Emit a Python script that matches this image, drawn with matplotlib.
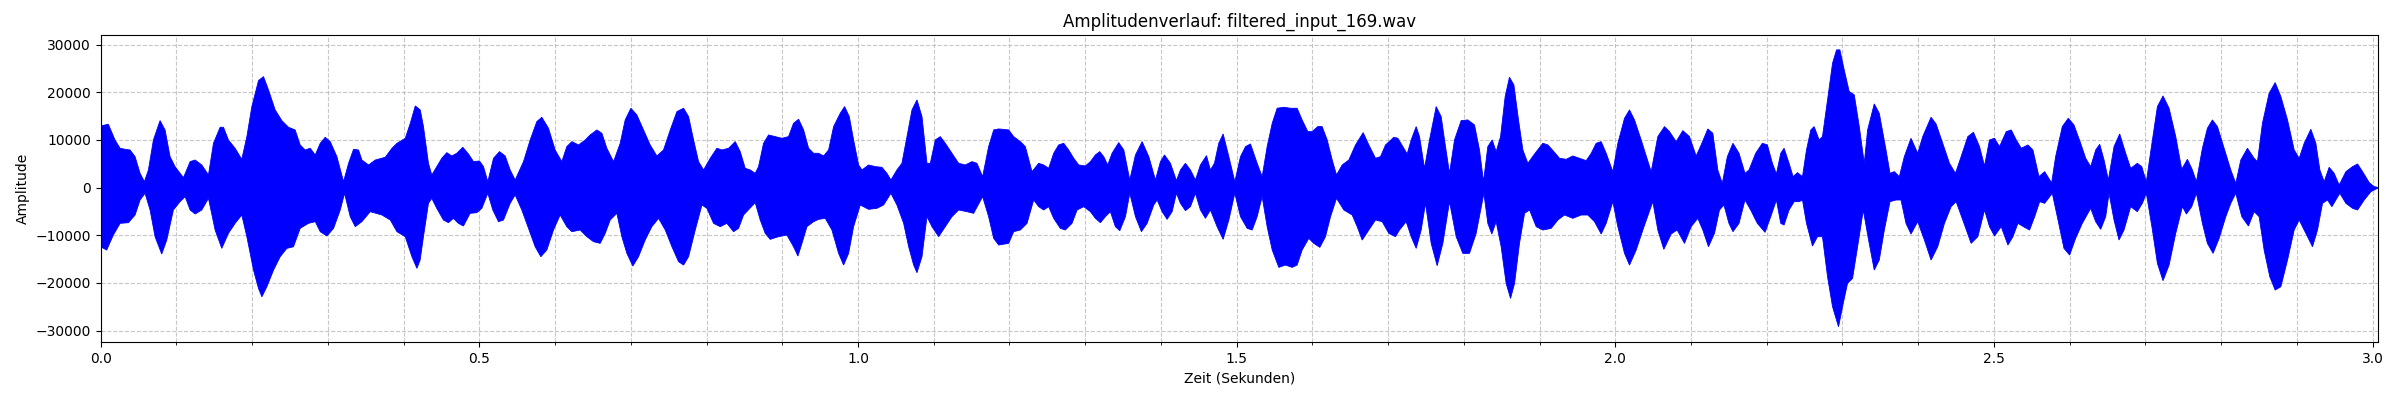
import numpy as np
import matplotlib
matplotlib.use("Agg")
import matplotlib.pyplot as plt
from matplotlib.ticker import MultipleLocator

# ---- data: amplitude envelope (time in s, amplitude) ----
upper_t = [
    0.0, 0.0013, 0.0101, 0.0189, 0.0256, 0.0322, 0.0388, 0.0454, 0.052, 0.0577,
    0.063, 0.0696, 0.0784, 0.085, 0.0916, 0.0982, 0.1093, 0.1181, 0.1247, 0.1335,
    0.1423, 0.1489, 0.1577, 0.1621, 0.1687, 0.1775, 0.1863, 0.193, 0.1996, 0.2084,
    0.215, 0.2216, 0.2304, 0.2392, 0.248, 0.2568, 0.2634, 0.27, 0.2767, 0.2833,
    0.2899, 0.2965, 0.3031, 0.3119, 0.3207, 0.3273, 0.3339, 0.3405, 0.3449, 0.3537,
    0.3626, 0.3758, 0.3846, 0.3912, 0.4022, 0.4088, 0.4154, 0.422,
    0.4262, 0.4328, 0.4372, 0.4438, 0.4504, 0.457, 0.4636, 0.4702, 0.4782, 0.4856,
    0.4923, 0.5002, 0.5055, 0.5112, 0.5187, 0.5266, 0.5341, 0.5407, 0.5473, 0.5583,
    0.5671, 0.5759, 0.5825, 0.5913, 0.6001, 0.6089, 0.6155, 0.6222, 0.631, 0.6398,
    0.6464, 0.6552, 0.6618, 0.6684, 0.6772, 0.686, 0.6926, 0.7001, 0.708, 0.7168,
    0.7256, 0.7344, 0.7432, 0.7521, 0.7609, 0.7697, 0.7763, 0.7829, 0.7895, 0.7961,
    0.8049, 0.8137, 0.8203, 0.8291, 0.8379, 0.8445, 0.8511,
    0.8577, 0.8643, 0.8687, 0.8753, 0.8819, 0.8907, 0.8995, 0.9083, 0.9149, 0.9216,
    0.9282, 0.9348, 0.9414, 0.948, 0.9546, 0.9612, 0.9678, 0.9766, 0.9823, 0.9885,
    0.9942, 1.0008, 1.0052, 1.014, 1.0228, 1.0316, 1.0382, 1.0435, 1.0514, 1.058,
    1.0647, 1.0713, 1.0779, 1.0845, 1.0911, 1.0955, 1.1021, 1.1087, 1.1153, 1.1241,
    1.1329, 1.1417, 1.1505, 1.1571, 1.1646, 1.1725, 1.1792, 1.1858, 1.199, 1.2056,
    1.2144, 1.221, 1.2298, 1.2386, 1.2452, 1.2518, 1.2584, 1.265, 1.2716, 1.2782,
    1.2849, 1.2915, 1.3003, 1.3069, 1.3135, 1.3192, 1.3245, 1.3298, 1.3355, 1.3443,
    1.351, 1.3589, 1.3664, 1.3752, 1.384, 1.3928, 1.3994, 1.4047, 1.4126, 1.4205,
    1.4258, 1.4324, 1.439, 1.4456, 1.4522, 1.4602, 1.4654, 1.4707, 1.4764, 1.4822,
    1.4897, 1.4976, 1.5051, 1.5117, 1.5183, 1.5271, 1.5337, 1.5403, 1.547, 1.5535,
    1.5623, 1.5711, 1.5799, 1.5865, 1.594, 1.5997, 1.6072, 1.6129, 1.6196, 1.6262,
    1.6319, 1.6394, 1.6482, 1.657, 1.6671, 1.6746, 1.6834, 1.69, 1.6966, 1.7076,
    1.7129, 1.7195, 1.7252, 1.7305, 1.7371, 1.7415, 1.7481, 1.7547, 1.7635, 1.7701,
    1.7745, 1.7811, 1.7877, 1.7965, 1.8053, 1.8141, 1.8207, 1.826, 1.8317, 1.8375,
    1.8427, 1.8485, 1.8546, 1.8603, 1.8661, 1.8722, 1.878, 1.8846, 1.8934, 1.9044,
    1.911, 1.9189, 1.9264, 1.9352, 1.944, 1.9528, 1.9616, 1.9682, 1.9748, 1.9814,
    1.988, 1.9968, 2.0034, 2.0122, 2.0188, 2.0254, 2.0342, 2.0474, 2.0562, 2.065,
    2.0716, 2.0804, 2.0892, 2.098, 2.1068, 2.1134, 2.1222, 2.1288, 2.1354,
    2.1413, 2.148, 2.1554, 2.1634, 2.1713, 2.1766, 2.1854, 2.1942, 2.2009, 2.2075,
    2.2128, 2.2185, 2.2229, 2.2295, 2.2348, 2.2406, 2.2472, 2.2525, 2.2582, 2.2626,
    2.2692, 2.2736, 2.2803, 2.2869, 2.2922, 2.2966, 2.3023, 2.3089, 2.3156, 2.3222,
    2.3288, 2.3332, 2.342, 2.3486, 2.3575, 2.3628, 2.3685, 2.3751, 2.3817, 2.3905,
    2.3994, 2.406, 2.417, 2.4236, 2.4324, 2.4413, 2.4492, 2.4567, 2.4655, 2.473,
    2.481, 2.4876, 2.4942, 2.5008, 2.5074, 2.5163, 2.5229, 2.5295, 2.5361, 2.5449,
    2.5515, 2.5595, 2.567,
    2.5762, 2.5815, 2.5903, 2.5982, 2.6057, 2.6145, 2.6212, 2.6278, 2.6344, 2.6397,
    2.6454, 2.6511, 2.6586, 2.6661, 2.674, 2.6806, 2.6894, 2.6952, 2.7013, 2.7093,
    2.7159, 2.7233, 2.7313, 2.7401, 2.748, 2.7555, 2.7621, 2.7674, 2.7753, 2.7819,
    2.7885, 2.7952, 2.804, 2.8128, 2.8194, 2.826, 2.8348, 2.8436, 2.848, 2.8546,
    2.8634, 2.8714, 2.8789, 2.8877, 2.8965, 2.9031, 2.9097, 2.9185, 2.9251, 2.9304,
    2.9361, 2.9427, 2.9493, 2.9559, 2.9648, 2.9736, 2.9802, 2.9868, 2.9956, 3.0022,
    3.0066,
]
upper_v = [
    12100, 13000, 13300, 10000, 8260, 8050, 7900, 6500, 3000, 1260,
    3700, 10000, 14070, 12100, 6500, 4400, 2100, 5460, 5800, 4760,
    2660, 9300, 12670, 12670, 10000, 8260, 5950, 10700, 17000, 22470,
    23300, 20500, 16300, 14070, 12670, 12100, 8960, 7900, 8260, 6860,
    9300, 10570, 9660, 6500, 1260, 5100, 8050, 7900, 5800, 4760,
    5800, 6370, 8260, 9300, 10360, 13500, 17150, 16300,
    12800, 5100, 2660, 4400, 6160, 7350, 6650, 7210, 8470, 7070,
    5460, 5600, 4400, 1260, 6160, 7560, 6650, 3710, 1610, 5460,
    10000, 13860, 14770, 12460, 7910, 5460, 8610, 9660, 8960, 10000,
    11060, 12110, 11410, 8260, 5460, 9310, 14210, 16660, 15260, 12110,
    8960, 6650, 7910, 12110, 15960, 16660, 14910, 10000, 5460, 3710,
    6160, 8260, 7910, 8260, 9660, 7560, 4060,
    3710, 3010, 4410, 9310, 11060, 10710, 10360, 10710, 13510, 14350,
    12110, 8260, 7210, 7210, 6650, 7910, 12810, 15610, 17010, 14910,
    10010, 4760, 3710, 4760, 4410, 4270, 3010, 1610, 3710, 5110,
    10710, 16310, 18410, 14910, 5110, 5110, 10010, 10710, 9310, 7210,
    5110, 4760, 5460, 5110, 2310, 8610, 12110, 12320, 12110, 10710,
    9660, 8610, 3360, 5110, 4760, 4060, 7210, 8960, 9310, 7910,
    6160, 4760, 4550, 5460, 6860, 7560, 6510, 4760, 7210, 9450,
    7910, 1610, 6860, 9660, 6510, 1610, 5460, 6860, 5110, 1470,
    3710, 5110, 3710, 1610, 4760, 6720, 3710, 5110, 9310, 11270,
    6510, 1260, 6510, 8610, 9170, 5110, 2310, 8610, 13510, 16660,
    16870, 16660, 16660, 14210, 11760, 11760, 12810, 12810, 10010, 5810,
    2660, 4760, 5810, 8960, 11550, 8960, 6160, 6510, 8960, 10570,
    10360, 8610, 7070, 10010, 12810, 10710, 4060, 10010, 17010, 14910,
    10010, 3010, 10010, 14070, 14210, 13160, 7910, 1260, 8610, 10010,
    7560, 10710, 19110, 23170, 21560, 14210, 7910, 5110, 7070, 9310,
    8960, 7560, 6160, 5950, 6650, 6160, 5670, 7210, 9310, 9660,
    7210, 3360, 9310, 14560, 16310, 14210, 10010, 3360, 10710, 12810,
    11760, 9660, 11970, 10710, 6650, 8960, 12320, 11410, 3710,
    910, 6510, 9310, 7210, 3010, 3710, 7210, 9310, 8960, 5110,
    2870, 7210, 8260, 5110, 2310, 3150, 2310, 7910, 12110, 12810,
    10010, 10710, 18410, 26110, 28910, 28910, 24710, 20160, 19460, 12810,
    5110, 12110, 17570, 15610, 7910, 3010, 3360, 2310, 6510, 10360,
    7210, 10710, 14770, 13370, 9310, 5110, 3010, 6510, 10710, 11620,
    8610, 4550, 10010, 10360, 8610, 11760, 12110, 10010, 8260, 8960,
    7910, 2310, 3360,
    1000, 6510, 12810, 14560, 13160, 9310, 6160, 4410, 7910, 9100,
    5810, 1610, 8610, 11270, 7210, 4060, 5110, 4410, 1260, 10010,
    17010, 19250, 16660, 10710, 3850, 5950, 3710, 1260, 8260, 12460,
    14210, 12810, 8260, 3710, 910, 5810, 8260, 6160, 5460, 13510,
    19810, 22050, 19110, 14210, 7910, 6160, 9310, 12250, 9310, 3710,
    1260, 4270, 3010, 560, 3360, 4410, 4970, 3360, 1050, 210,
    70,
]

lower_t = [
    0.0, 0.0079, 0.0167, 0.0256, 0.0366, 0.0454, 0.052, 0.0586, 0.0652, 0.0718,
    0.0806, 0.0872, 0.096, 0.1048, 0.1115, 0.1181, 0.1247, 0.1335, 0.1423, 0.1511,
    0.1599, 0.1687, 0.1775, 0.1863, 0.193, 0.2018, 0.2084, 0.2128, 0.2194, 0.2282,
    0.237, 0.2458, 0.2546, 0.2634, 0.2744, 0.2833, 0.2899, 0.2987, 0.3075, 0.3163,
    0.322, 0.3295, 0.3361, 0.3449, 0.3559, 0.3714, 0.3824, 0.3912, 0.4022, 0.411,
    0.4176,
    0.4218, 0.4262, 0.4328, 0.4372, 0.4438, 0.4526, 0.4592, 0.4658, 0.4724, 0.479,
    0.4878, 0.4967, 0.5033, 0.5112, 0.5178, 0.5253, 0.5319, 0.5407, 0.5473, 0.5561,
    0.5649, 0.5737, 0.5812, 0.5891, 0.5979, 0.6067, 0.6155, 0.6222, 0.6332, 0.642,
    0.6508, 0.6596, 0.6662, 0.6728, 0.6816, 0.6882, 0.6948, 0.7027, 0.7102, 0.719,
    0.7278, 0.7367, 0.7455, 0.7543, 0.7631, 0.7697, 0.7763, 0.7851, 0.7939, 0.8005,
    0.8093, 0.8181, 0.8269, 0.8357, 0.8423, 0.8489,
    0.8643, 0.8709, 0.8775, 0.8841, 0.8951, 0.9061, 0.9149, 0.9207, 0.926, 0.9326,
    0.9414, 0.948, 0.9568, 0.9656, 0.9744, 0.981, 0.9876, 0.9942, 1.003, 1.014,
    1.025, 1.0338, 1.0435, 1.0514, 1.0603, 1.0669, 1.0735, 1.0779, 1.0845, 1.0911,
    1.0977, 1.1065, 1.1153, 1.1241, 1.1329, 1.1439, 1.1527, 1.1646, 1.1725, 1.1792,
    1.1858, 1.199, 1.2056, 1.2144, 1.2232, 1.232, 1.2386, 1.2452, 1.2518, 1.2584,
    1.2672, 1.2738, 1.2826,
    1.2893, 1.2981, 1.3069, 1.3135, 1.3201, 1.3267, 1.3333, 1.3399, 1.3457, 1.3532,
    1.3589, 1.3664, 1.3743, 1.3818, 1.3906, 1.395, 1.4016, 1.4082, 1.4148, 1.4205,
    1.4258, 1.4324, 1.439, 1.4456, 1.4522, 1.4588, 1.4654, 1.4742, 1.4822, 1.4897,
    1.4976, 1.5051, 1.5139, 1.5205, 1.5271, 1.5337, 1.5403, 1.547, 1.5557, 1.5645,
    1.5733, 1.5799, 1.5865, 1.5953, 1.6019, 1.6099, 1.6173, 1.624, 1.6319, 1.6416,
    1.6526, 1.6592, 1.6658, 1.6746, 1.6834, 1.6922, 1.701, 1.7098,
    1.7151, 1.7239, 1.7305, 1.7371, 1.7437, 1.7494, 1.7569, 1.7648, 1.7723, 1.7811,
    1.7899, 1.7987, 1.8075, 1.8163, 1.8265, 1.8317, 1.837, 1.8427, 1.8493, 1.8559,
    1.8617, 1.867, 1.8735, 1.8802, 1.8868, 1.8956, 1.9044, 1.9154, 1.9242, 1.933,
    1.944, 1.955, 1.9638, 1.9726, 1.9814, 1.988, 1.9968, 2.0034, 2.0122, 2.0188,
    2.0276, 2.0364, 2.0496, 2.0562, 2.0641, 2.0738, 2.0817, 2.0914, 2.1002, 2.109,
    2.1156, 2.1231, 2.131, 2.1376,
    2.1435, 2.1501, 2.1554, 2.1634, 2.1713, 2.1788, 2.1876, 2.1978, 2.2053, 2.2128,
    2.2185, 2.2229, 2.2295, 2.2362, 2.2428, 2.2472, 2.2525, 2.2604, 2.267, 2.2736,
    2.2803, 2.2869, 2.2948, 2.301, 2.3067, 2.3133, 2.32, 2.3275, 2.3345, 2.342,
    2.3486, 2.3553, 2.3628, 2.3707, 2.3773, 2.3839, 2.3905, 2.3994, 2.4082, 2.417,
    2.4258, 2.4347, 2.4435, 2.4501, 2.4589, 2.4699, 2.4788, 2.4876, 2.4942, 2.5008,
    2.5096, 2.5185, 2.5251, 2.5317, 2.5405, 2.5471, 2.5538, 2.5604, 2.567,
    2.5771, 2.5837, 2.5925, 2.6, 2.6079, 2.6167, 2.6278, 2.6344, 2.641, 2.6476,
    2.652, 2.6586, 2.6652, 2.6718, 2.6806, 2.6894, 2.696, 2.7013, 2.7093, 2.7159,
    2.7233, 2.7313, 2.7401, 2.7489, 2.7542, 2.7612, 2.7674, 2.7753, 2.7819, 2.7894,
    2.7974, 2.8062, 2.8128, 2.8194, 2.8273, 2.8361, 2.8436, 2.8502, 2.8568, 2.8643,
    2.8714, 2.8789, 2.8877, 2.8965, 2.9031, 2.9119, 2.9207, 2.9273, 2.9339, 2.9405,
    2.9463, 2.9515, 2.9568, 2.9648, 2.9736, 2.9802, 2.989, 2.9978, 3.0066,
]
lower_v = [
    -12400, -13100, -9940, -7490, -7350, -5740, -2590, -1190, -4690, -10300,
    -13930, -11000, -4690, -2940, -1890, -4690, -5530, -4690, -2240, -8890,
    -12740, -9590, -7490, -5740, -10300, -17300, -21140, -22900, -20800, -17300,
    -14500, -12740, -12400, -8540, -7490, -7140, -9240, -10150, -8540, -4690,
    -1190, -6090, -8190, -7140, -5040, -5740, -6790, -9240, -10300, -14500,
    -16940,
    -15190, -10290, -3290, -2240, -4340, -6790, -7350, -6440, -7490, -8050,
    -5390, -5250, -4340, -1190, -4690, -7140, -6790, -3290, -1540, -4690,
    -8540, -12390, -14490, -13090, -8890, -5740, -8190, -9240, -8890, -10290,
    -11340, -11690, -9590, -6790, -5390, -10290, -13790, -16450, -14490, -10990,
    -8190, -6440, -8890, -12390, -15540, -16240, -14490, -8890, -3640, -4340,
    -7490, -8190, -7490, -9240, -8540, -5740,
    -3150, -6790, -9590, -10850, -10290, -9940, -12390, -14350, -11690, -8190,
    -7140, -6650, -6440, -8890, -13790, -16240, -13790, -8190, -3640, -4550,
    -4340, -3640, -1190, -3640, -7490, -12390, -16240, -17850, -14490, -6090,
    -8190, -10290, -8190, -6090, -4690, -5040, -5390, -1890, -6090, -10640,
    -12040, -11690, -9240, -8890, -7490, -2590, -3990, -4690, -3990, -6440,
    -8540, -8890, -7490,
    -4690, -3990, -5040, -6440, -7350, -6090, -5040, -8190, -9030, -6090,
    -1190, -6090, -9240, -7490, -3640, -2590, -5040, -6650, -5040, -1190,
    -3290, -4830, -3990, -1190, -4690, -6440, -4690, -8190, -10850, -6790,
    -1190, -6090, -8540, -8890, -6090, -1890, -8190, -13090, -16730, -16240,
    -16730, -16240, -13090, -10640, -11690, -12530, -10290, -6090, -2240, -4690,
    -5740, -8190, -10990, -8890, -6790, -7140, -9590, -10290,
    -8890, -7140, -10290, -12740, -8890, -3290, -11690, -16380, -11690, -2940,
    -10290, -13790, -13790, -9590, -1190, -7490, -9730, -7140, -12390, -20090,
    -23240, -20090, -11690, -5390, -4690, -8190, -8890, -8540, -6790, -5740,
    -6440, -5740, -5740, -7140, -9730, -7490, -2940, -8190, -13790, -16240,
    -13090, -8890, -2940, -8890, -12950, -9730, -8890, -11690, -8190, -6440,
    -8890, -12390, -9590, -4690,
    -3640, -7490, -9240, -7490, -2590, -4690, -7490, -9380, -6090, -2590,
    -7490, -7840, -4690, -2940, -2940, -2590, -7490, -12250, -10290, -10290,
    -18690, -24990, -29190, -24290, -20090, -19040, -12390, -4690, -10990, -17290,
    -15190, -8890, -2940, -2590, -2590, -7490, -9730, -7140, -10990, -15190,
    -12390, -7490, -3990, -2940, -6790, -11690, -10290, -4690, -8190, -10150,
    -8190, -12040, -10290, -7490, -8330, -8890, -6090, -2940, -3290,
    -1190, -6090, -12740, -14140, -10640, -7490, -4340, -7140, -8750, -6090,
    -1190, -6790, -10990, -8890, -3990, -5040, -3290, -1190, -8890, -15890,
    -19530, -16240, -9590, -3990, -5530, -3990, -1190, -7490, -11690, -13790,
    -10640, -6090, -3290, -1190, -6090, -8050, -5040, -6090, -13090, -18690,
    -21490, -20790, -15190, -8890, -6790, -9590, -12390, -8890, -3290, -2590,
    -3990, -2590, -1190, -3290, -4340, -4690, -2590, -840, -140,
]

title_text = "Amplitudenverlauf: filtered_input_169.wav"
x_label = "Zeit (Sekunden)"
y_label = "Amplitude"
duration = 3.0077

# ---- figure ----
fig = plt.figure(figsize=(24, 4), dpi=100)
ax = fig.add_axes([0.04196, 0.14425, 0.991 - 0.04196, 0.9125 - 0.14425])

poly_x = np.concatenate([upper_t, lower_t[::-1]])
poly_y = np.concatenate([upper_v, lower_v[::-1]])
ax.fill(poly_x, poly_y, color="blue", linewidth=0.6, edgecolor="blue", zorder=2)

ax.set_xlim(0, duration)
ax.set_ylim(-32450, 32030)
ax.xaxis.set_major_locator(MultipleLocator(0.5))
ax.xaxis.set_minor_locator(MultipleLocator(0.1))
ax.yaxis.set_major_locator(MultipleLocator(10000))

ax.grid(True, which="major", axis="both", linestyle="--", color="#b0b0b0",
        alpha=0.7, linewidth=0.8, zorder=0)
ax.grid(True, which="minor", axis="x", linestyle="--", color="#b0b0b0",
        alpha=0.7, linewidth=0.8, zorder=0)
ax.set_axisbelow(True)

ax.set_title(title_text, fontsize=12)
ax.set_xlabel(x_label, fontsize=10)
ax.set_ylabel(y_label, fontsize=10)
ax.tick_params(labelsize=10)

fig.savefig("out.png", dpi=100)
